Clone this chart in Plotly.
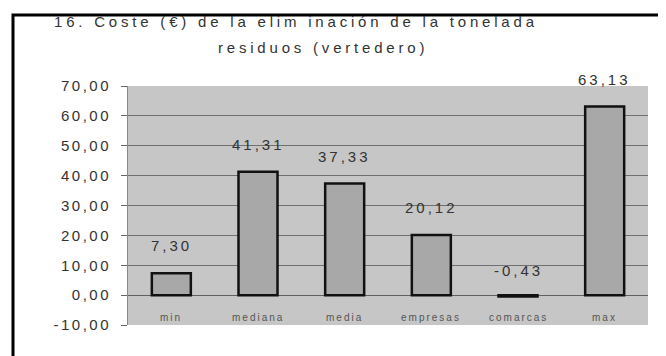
import plotly.graph_objects as go

categories = ["min", "mediana", "media", "empresas", "comarcas", "max"]
values = [7.30, 41.31, 37.33, 20.12, -0.43, 63.13]
value_labels = ["7,30", "41,31", "37,33", "20,12", "-0,43", "63,13"]
y_ticks = [-10, 0, 10, 20, 30, 40, 50, 60, 70]
y_tick_text = ["-10,00", "0,00", "10,00", "20,00", "30,00", "40,00", "50,00", "60,00", "70,00"]
title_lines = ["16. Coste (€) de la elim inación de la tonelada", "residuos (vertedero)"]

OFF = 8  # page body margin
W, H = 666, 356
L, R, T, B = 128 - OFF, 26, 86 - OFF, 39
pw, ph = W - L - R, H - T - B

def px_x(sx):
    return (sx - OFF - L) / pw

def px_y(sy):
    return 1 - (sy - OFF - T) / ph

def spaced(t, sp):
    return "<span style='letter-spacing:%spx'>%s</span>" % (sp, t)

fig = go.Figure()
fig.add_trace(go.Bar(
    x=categories, y=values,
    marker=dict(color="#a8a8a8", line=dict(color="#111111", width=2.5)),
    width=0.45,
))

font = "Liberation Sans, Arial, sans-serif"
ann = []
for c, v, lab in zip(categories, values, value_labels):
    ann.append(dict(x=c, y=max(v, 0), xref="x", yref="y", text=spaced(lab, 3), showarrow=False,
                    yanchor="bottom", yshift=17 if v > 0 else 14,
                    font=dict(family=font, size=15, color="#333333")))
    ann.append(dict(x=c, y=-7.6, xref="x", yref="y", text=spaced(c, 2), showarrow=False,
                    font=dict(family=font, size=10, color="#555555")))
for txt, sx, sy in zip(title_lines, [52, 216], [22, 48]):
    ann.append(dict(x=px_x(sx), y=px_y(sy), xref="paper", yref="paper",
                    text=spaced(txt, 3.8), showarrow=False, yanchor="middle", xanchor="left",
                    font=dict(family=font, size=15, color="#333333")))

fig.update_layout(
    width=W, height=H,
    margin=dict(l=L, r=R, t=T, b=B),
    paper_bgcolor="white", plot_bgcolor="#c6c6c6",
    showlegend=False,
    annotations=ann,
    xaxis=dict(showticklabels=False, showgrid=False, zeroline=False, showline=False),
    yaxis=dict(range=[-10, 70], tickvals=y_ticks,
               ticktext=[spaced(t, 2.5) for t in y_tick_text],
               showgrid=True, gridcolor="#707070", gridwidth=1.3,
               zeroline=True, zerolinecolor="#606060", zerolinewidth=1.3,
               ticks="outside", ticklen=6, tickcolor="#666666",
               ticklabelstandoff=7,
               showline=True, linecolor="#888888",
               tickfont=dict(family=font, size=15, color="#333333")),
    shapes=[dict(type="rect", xref="paper", yref="paper",
                 x0=px_x(13), x1=px_x(690),
                 y0=px_y(400), y1=px_y(15),
                 line=dict(color="black", width=3))],
)

fig.write_html("out.html")
